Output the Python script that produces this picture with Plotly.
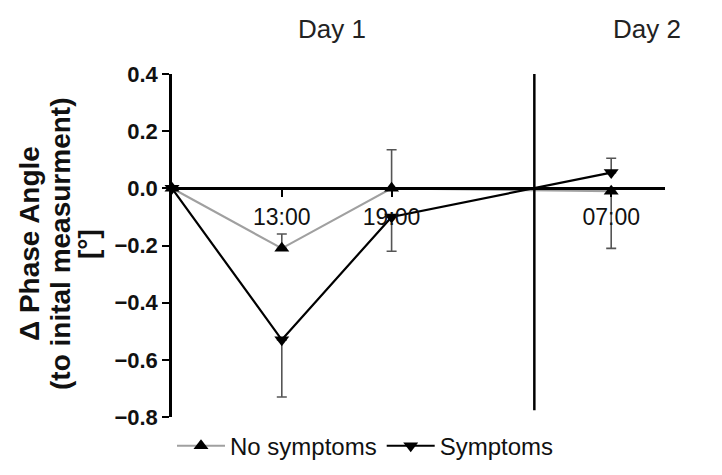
import plotly.graph_objects as go

# Data
x_pos = [0, 1, 2, 4]
x_tickvals = [1, 2, 4]
x_ticktext = ["13:00", "19:00", "07:00"]

no_sym = [0.0, -0.21, 0.0, -0.01]
no_sym_plus = [0.0, 0.05, 0.135, 0.0]
no_sym_minus = [0.0, 0.0, 0.0, 0.20]

sym = [0.0, -0.53, -0.10, 0.055]
sym_plus = [0.0, 0.0, 0.0, 0.05]
sym_minus = [0.0, 0.20, 0.12, 0.0]

y_ticks = [0.4, 0.2, 0.0, -0.2, -0.4, -0.6, -0.8]
y_ticktext = ["0.4", "0.2", "0.0", "\u22120.2", "\u22120.4", "\u22120.6", "\u22120.8"]

day_labels = ["Day 1", "Day 2"]
day_label_x = [1.46, 4.33]
day_break = 3.3

title_lines = ["\u0394 Phase Angle", "(to inital measurment)", "[°]"]

FONT = "Liberation Sans, Arial, sans-serif"

fig = go.Figure()
fig.add_trace(go.Scatter(
    x=x_pos, y=no_sym, name="No symptoms", mode="lines+markers",
    line=dict(color="#a0a0a0", width=2.2),
    marker=dict(symbol="triangle-up", size=13, color="black"),
    error_y=dict(type="data", symmetric=False, array=no_sym_plus, arrayminus=no_sym_minus,
                 color="#555555", thickness=1.6, width=5),
    cliponaxis=False,
))
fig.add_trace(go.Scatter(
    x=x_pos, y=sym, name="Symptoms", mode="lines+markers",
    line=dict(color="black", width=2.2),
    marker=dict(symbol="triangle-down", size=13, color="black"),
    error_y=dict(type="data", symmetric=False, array=sym_plus, arrayminus=sym_minus,
                 color="#555555", thickness=1.6, width=5),
    cliponaxis=False,
))

# vertical day separator
fig.add_shape(type="line", xref="x", yref="y", x0=day_break, x1=day_break, y0=0.437, y1=-0.776,
              line=dict(color="black", width=2.5))

for t, xv in zip(day_labels, day_label_x):
    fig.add_annotation(x=xv, y=(417 - 29) / 343, xref="x", yref="paper", text=t, showarrow=False,
                       xanchor="center", yanchor="middle",
                       font=dict(family=FONT, size=26, color="#222222"))

# y-axis title lines
title_x_px = [29, 60, 88]
for t, px in zip(title_lines, title_x_px):
    fig.add_annotation(x=(px - 172) / 493, y=(417 - 244) / 343, xref="paper", yref="paper",
                       text="<b>" + t + "</b>", showarrow=False, textangle=-90,
                       font=dict(family=FONT, size=28, color="#111111"),
                       xanchor="center", yanchor="middle")

fig.update_layout(
    width=722, height=475,
    margin=dict(l=172, r=57, t=74, b=58, autoexpand=False),
    plot_bgcolor="white", paper_bgcolor="white",
    showlegend=True,
    legend=dict(orientation="h", x=0.0, y=-0.085, xanchor="left", yanchor="middle",
                itemwidth=48,
                font=dict(family=FONT, size=24, color="#111111"), bgcolor="rgba(0,0,0,0)"),
    xaxis=dict(range=[0, 4.49], anchor="free", position=(417 - 188) / 343,
               showline=True, linecolor="black", linewidth=2.8,
               tickvals=x_tickvals, ticktext=x_ticktext, ticks="outside", ticklen=7,
               tickwidth=2, tickcolor="black", showgrid=False, zeroline=False,
               tickfont=dict(family=FONT, size=23, color="#111111"),
               ticklabelstandoff=0),
    yaxis=dict(range=[-0.8, 0.4], showline=True, linecolor="black", linewidth=2.5,
               tickvals=y_ticks, ticktext=y_ticktext, ticks="outside", ticklen=7,
               tickwidth=2, tickcolor="black", showgrid=False, zeroline=False,
               tickfont=dict(family=FONT, size=22, color="#111111", weight="bold"),
               ticklabelstandoff=0),
    font=dict(family=FONT),
)

fig.write_html("out.html")
